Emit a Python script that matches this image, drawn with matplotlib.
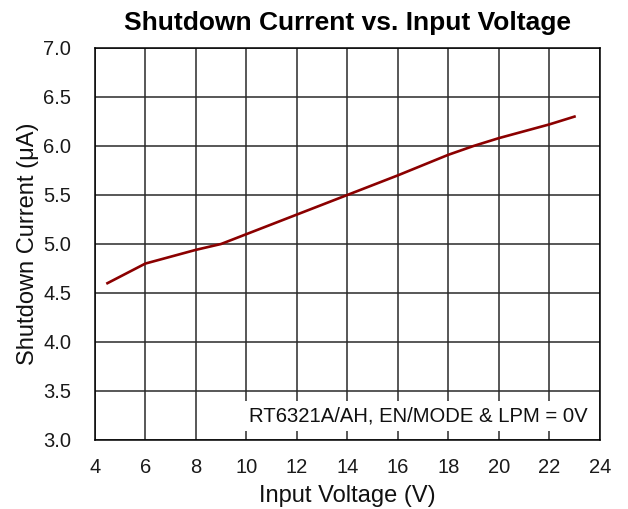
import matplotlib
matplotlib.use("Agg")
import matplotlib.pyplot as plt

plt.rcParams['font.family'] = ['Liberation Sans', 'DejaVu Sans']

vin = [4.5, 6, 8, 9, 10, 12, 14, 16, 18, 19, 20, 22, 23]
ishdn = [4.6, 4.8, 4.94, 5.0, 5.1, 5.3, 5.5, 5.7, 5.91, 6.0, 6.08, 6.22, 6.30]
xticks = [4, 6, 8, 10, 12, 14, 16, 18, 20, 22, 24]
yticks = [3.0, 3.5, 4.0, 4.5, 5.0, 5.5, 6.0, 6.5, 7.0]

fig = plt.figure(figsize=(6.28, 5.09), dpi=100)
ax = fig.add_axes([0.151, 0.1356, 0.804, 0.7701])
ax.plot(vin, ishdn, color='#8B0000', lw=1.9, zorder=3)
ax.set_xlim(4, 24)
ax.set_ylim(3.0, 7.0)
ax.set_xticks(xticks)
ax.set_yticks(yticks)
ax.set_yticklabels([f"{v:.1f}" for v in yticks])
ax.grid(True, color='#2a2a2a', lw=1.1, zorder=1)
ax.set_axisbelow(True)
ax.tick_params(length=0, labelsize=14.5, labelcolor='#1a1a1a')
ax.tick_params(axis='y', pad=17)
ax.tick_params(axis='x', pad=13)
for s in ax.spines.values():
    s.set_color('black')
    s.set_linewidth(1.1)
ax.set_xlabel('Input Voltage (V)', fontsize=17, labelpad=6, color='#111111')
ax.set_ylabel('Shutdown Current (μA)', fontsize=17, labelpad=3, color='#111111')
ax.set_title('Shutdown Current vs. Input Voltage', fontsize=19, fontweight='bold', pad=13)
ax.text(0.976, 0.061, 'RT6321A/AH, EN/MODE & LPM = 0V', transform=ax.transAxes,
        ha='right', va='center', fontsize=14.6, zorder=4, color='#111111',
        bbox=dict(facecolor='white', edgecolor='none', pad=4))
fig.savefig('out.png', dpi=100)
